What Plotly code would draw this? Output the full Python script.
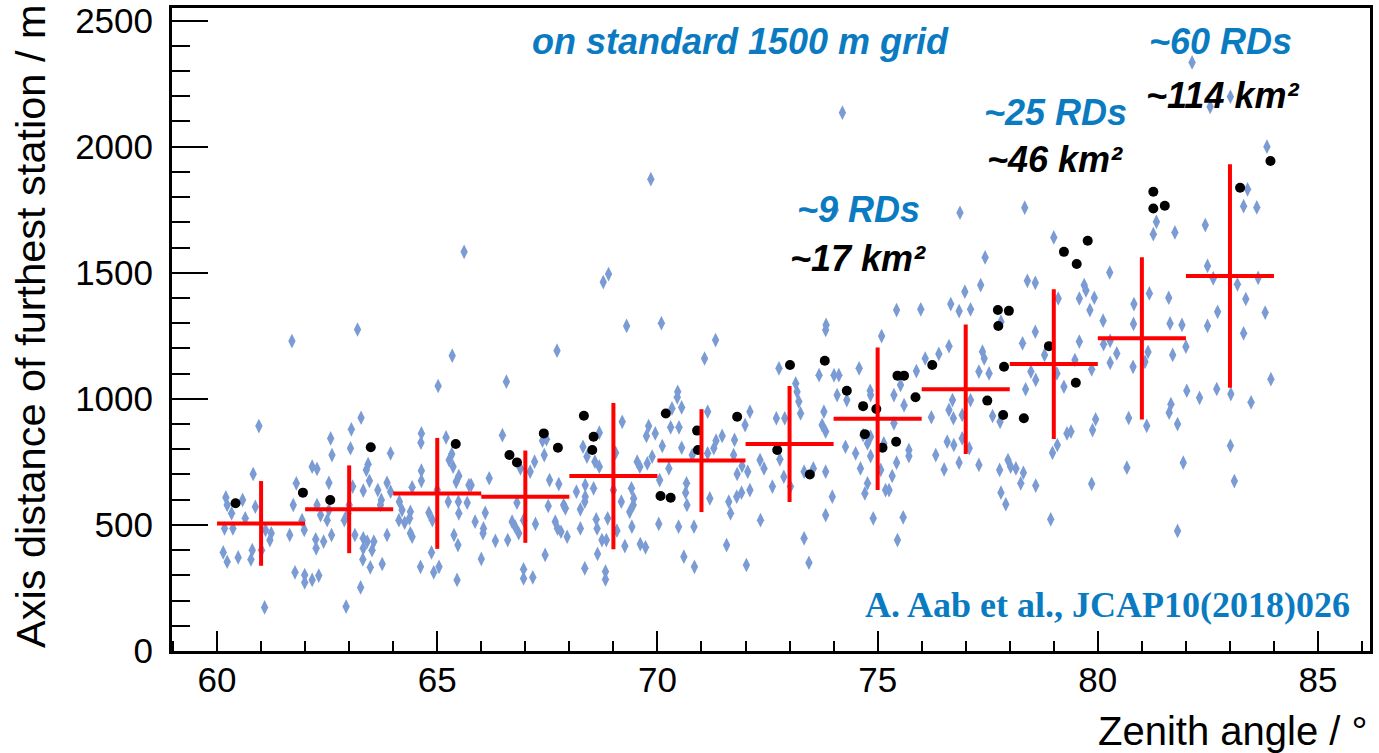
import plotly.graph_objects as go

# ---------------- data ----------------
# blue diamonds: all events (zenith angle [deg], axis distance of furthest station [m])
diamond_x = [
    61.70, 63.19, 65.34, 65.02, 60.95, 63.27, 63.05, 62.58, 63.03, 62.61, 63.94, 64.64, 64.63, 65.20, 65.33, 65.27,
    62.16, 62.27, 63.43, 63.39, 64.64, 65.36, 60.82, 61.80, 62.54, 63.46, 64.64, 64.43, 63.08, 63.32, 63.65, 63.86,
    63.94, 60.20, 60.58, 60.23, 60.87, 60.33, 60.64, 61.73, 62.27, 62.54, 62.35, 63.00, 62.97, 62.89, 62.50, 63.73,
    63.71, 64.14, 64.20, 64.39, 64.37, 64.13, 64.81, 64.89, 65.25, 65.48, 65.68, 65.49, 65.43, 65.49, 65.72, 60.17,
    60.36, 61.10, 61.23, 61.20, 61.01, 60.80, 60.77, 60.14, 60.23, 60.48, 61.08, 61.65, 61.93, 61.98, 62.24, 62.25,
    62.42, 62.60, 61.77, 61.99, 61.99, 62.16, 62.31, 63.13, 63.32, 63.41, 63.56, 63.32, 63.52, 63.31, 63.48, 63.75,
    63.86, 63.26, 62.93, 64.26, 64.39, 64.43, 64.62, 64.87, 64.92, 65.04, 65.38, 65.47, 65.45, 65.00, 65.61,
    69.30, 70.09, 71.32, 71.07, 67.72, 66.57, 70.46, 70.45, 70.33, 70.55, 71.14, 72.10, 69.20, 66.48, 69.80, 69.95,
    69.75, 70.30, 70.49, 71.99, 68.68, 70.11, 70.55, 71.47, 71.33, 71.28, 71.14, 71.75, 71.73, 67.39, 67.48, 67.43,
    67.21, 67.11, 66.89, 68.31, 68.40, 68.58, 68.68, 69.05, 69.54, 69.60, 69.77, 69.88, 70.26, 70.79, 71.92, 72.05,
    72.42, 72.33, 66.18, 65.77, 67.55, 67.76, 68.16, 68.36, 68.55, 68.36, 68.35, 69.00, 69.41, 69.46, 69.45, 69.37,
    69.18, 70.05, 70.66, 70.64, 70.67, 71.19, 71.62, 71.80, 71.91, 72.10, 71.81, 71.66, 72.34, 66.09, 65.86, 66.05,
    66.04, 66.32, 66.60, 66.70, 66.77, 66.85, 66.96, 67.23, 66.81, 67.52, 67.87, 67.91, 67.68, 67.73, 67.81, 67.95,
    68.25, 68.25, 68.61, 68.63, 68.87, 68.74, 68.84, 69.08, 69.42, 69.61, 69.73, 69.26, 70.03, 70.48, 70.83, 67.45,
    66.00, 66.96, 66.96, 67.17, 68.35, 68.64, 68.82, 68.82, 70.60, 70.84, 71.57, 72.02, 69.85, 68.89, 68.77,
    73.82, 75.09, 78.58, 76.62, 76.39, 76.08, 75.88, 74.58, 74.01, 74.12, 73.67, 72.76, 73.14, 73.17, 73.21, 73.25,
    72.70, 72.89, 74.30, 74.08, 73.78, 73.74, 73.82, 74.27, 74.50, 74.67, 74.83, 74.84, 75.37, 75.52, 75.60, 75.37,
    75.14, 74.84, 74.84, 74.77, 75.71, 75.71, 74.61, 75.07, 75.43, 75.33, 75.18, 75.26, 74.77, 74.71, 74.90, 75.58,
    75.45, 73.82, 73.97, 73.82, 73.33, 73.54, 73.33, 73.44, 72.87, 72.78, 73.02, 72.61, 76.22, 76.70, 76.72, 76.92,
    76.62, 77.11, 76.32, 76.58, 76.73, 76.51, 76.85, 76.92, 77.08, 77.30, 77.30, 77.38, 77.42, 77.53, 77.61, 77.78,
    77.77, 77.96, 78.02, 78.14, 78.31, 78.25, 78.59, 77.80, 77.91, 78.29, 78.36, 78.59, 78.48, 78.79, 79.07, 79.23,
    79.30, 79.08, 78.97, 78.93, 73.83,
    80.12, 80.81, 81.64, 81.91, 82.49, 83.31, 79.58, 80.13, 80.28, 80.43, 80.28, 80.80, 81.14, 81.07, 81.70, 82.00,
    79.86, 79.48, 83.93, 82.02, 82.31, 82.70, 83.02, 83.48, 81.66, 81.62, 81.81, 80.70, 81.11, 79.95, 79.88, 79.39,
    83.01, 80.66, 81.94, 83.10, 79.86, 81.81,
    82.14, 83.01, 82.55, 83.84, 83.40, 83.31, 83.61, 81.33, 81.26, 81.75, 82.44, 82.49, 82.62, 83.17, 83.64, 83.36,
    83.80, 82.72, 80.27, 79.69, 79.73, 79.58, 79.92, 79.82, 81.17, 81.61, 80.82,
    74.20, 76.87, 78.34, 79.00, 77.44, 77.34, 76.98, 76.66, 76.85, 77.11, 75.43, 75.98, 78.40, 78.58, 79.10, 77.80,
    74.04,
]
diamond_y = [
    1229, 1275, 1171, 1051, 892, 925, 879, 843, 804, 777, 784, 863, 826, 847, 781, 757,
    731, 722, 741, 718, 715, 731, 702, 665, 667, 675, 675, 649, 652, 636, 638, 667,
    632, 609, 599, 579, 572, 546, 526, 579, 579, 559, 539, 579, 546, 519, 519, 599,
    579, 592, 559, 552, 526, 519, 548, 519, 592, 592, 588, 546, 671, 694, 658, 486,
    486, 480, 467, 440, 400, 400, 363, 391, 354, 371, 173, 460, 519, 480, 443, 407,
    434, 460, 312, 272, 301, 282, 299, 460, 447, 434, 434, 407, 400, 363, 332, 345,
    460, 252, 176, 509, 467, 453, 334, 391, 312, 334, 460, 420, 282, 638, 1583,
    1289, 1300, 1233, 1160, 1191, 1068, 1028, 1006, 962, 966, 949, 949, 909, 856, 892, 863,
    853, 887, 887, 896, 866, 813, 806, 853, 834, 804, 784, 837, 777, 834, 840, 777,
    751, 711, 724, 810, 771, 751, 731, 786, 751, 731, 744, 771, 724, 777, 734, 711,
    724, 757, 685, 658, 678, 662, 632, 658, 645, 612, 592, 638, 645, 605, 579, 552,
    592, 678, 665, 628, 579, 605, 592, 612, 628, 638, 702, 546, 519, 548, 513, 486,
    467, 437, 440, 513, 493, 467, 519, 504, 588, 575, 579, 566, 513, 486, 473, 453,
    562, 486, 522, 486, 526, 440, 440, 477, 493, 424, 411, 416, 504, 493, 493, 381,
    365, 324, 288, 292, 328, 385, 315, 284, 374, 334, 420, 341, 1871, 1495, 1463,
    1273, 1249, 1266, 1209, 1178, 1160, 1110, 1121, 1094, 1094, 1094, 1121, 1061, 1028, 989, 942,
    923, 923, 995, 1015, 949, 896, 870, 810, 784, 856, 1032, 1015, 1015, 1055, 975, 903,
    823, 773, 850, 823, 797, 773, 724, 718, 747, 694, 638, 638, 665, 625, 526, 530,
    440, 711, 612, 539, 711, 724, 447, 350, 691, 760, 652, 652, 927, 995, 923, 936,
    956, 995, 777, 830, 817, 720, 747, 843, 804, 738, 1108, 1187, 1160, 1101, 932, 909,
    718, 757, 731, 724, 707, 665, 656, 628, 582, 1220, 1038, 1075, 1108, 1174, 1101, 1048,
    863, 817, 786, 522, 1293,
    1310, 1297, 1299, 1293, 1289, 1260, 1227, 1217, 1230, 1180, 1143, 1127, 1186, 1147, 1174, 1207,
    1117, 1154, 1078, 1032, 1004, 1039, 1019, 986, 979, 945, 900, 924, 893, 919, 876, 870,
    814, 727, 747, 674, 663, 476,
    2334, 2198, 2158, 2000, 1831, 1764, 1759, 1702, 1653, 1660, 1689, 1527, 1478, 1454, 1480, 1396,
    1342, 1345, 1501, 1451, 1430, 1398, 1401, 1352, 1418, 1401, 1376,
    2135, 1738, 1758, 1640, 1561, 1451, 1425, 1376, 1348, 1355, 1352, 1355, 1468, 1460, 1398, 1306,
    1749,
]

# black dots: subset of events
black_x = [
    60.42, 61.95, 62.57, 63.49, 65.42,
    66.64, 66.81, 67.42, 67.74, 68.33, 68.55, 68.52, 70.19, 70.07, 70.30, 70.90, 70.92, 71.81,
    73.01, 73.80, 72.72, 73.46, 74.30, 74.67, 74.97, 74.71, 75.11, 75.42, 75.45, 75.60, 75.86, 76.24,
    77.74, 77.87, 77.49, 77.85, 78.32, 78.89,
    79.50, 83.92, 83.23, 81.26, 81.26, 81.52, 79.77, 79.52, 79.23, 77.73, 77.98,
]
black_y = [
    586, 628, 599, 808, 821,
    777, 748, 863, 806, 933, 850, 797, 942, 615, 608, 874, 797, 929,
    1134, 1151, 797, 700, 1032, 971, 960, 860, 806, 830, 1092, 1092, 1006, 1134,
    1289, 1127, 993, 936, 923, 1209,
    1064, 1943, 1837, 1821, 1755, 1766, 1627, 1535, 1583, 1352, 1349,
]

# red profile: 2-degree bins
bin_center = [61, 63, 65, 67, 69, 71, 73, 75, 77, 79, 81, 83]
bin_mean = [506, 562, 625, 612, 694, 755, 821, 921, 1038, 1138, 1240, 1487]
bin_spread = [168, 174, 220, 183, 290, 204, 230, 283, 257, 297, 322, 443]
bin_halfwidth = 1.0

x_major_ticks = [60, 65, 70, 75, 80, 85]
y_major_ticks = [0, 500, 1000, 1500, 2000, 2500]

BLUE_TEXT = "#0a7bc1"
DIAMOND = "#7b9bd4"

fig = go.Figure()
fig.add_trace(go.Scatter(
    x=diamond_x, y=diamond_y, mode="markers",
    marker=dict(symbol="diamond-tall", size=10.5, color=DIAMOND, line=dict(width=0)),
    hoverinfo="skip"))
fig.add_trace(go.Scatter(
    x=black_x, y=black_y, mode="markers",
    marker=dict(symbol="circle", size=10, color="black", line=dict(width=0)),
    hoverinfo="skip"))
fig.add_trace(go.Scatter(
    x=bin_center, y=bin_mean, mode="markers",
    marker=dict(size=1, color="red"),
    error_x=dict(type="constant", value=bin_halfwidth, thickness=4, width=0, color="red"),
    error_y=dict(type="data", array=bin_spread, thickness=4, width=0, color="red"),
    hoverinfo="skip"))

PL, PR, PT, PB = 172, 1370, 8, 651
W, H = 1379, 753


def px_to_paper(px, py):
    return (px - PL) / (PR - PL), (PB - py) / (PB - PT)


tickfont = dict(family="Liberation Sans, Arial, sans-serif", size=35, color="black")

fig.update_layout(
    width=W, height=H,
    margin=dict(l=PL, r=W - PR, t=PT, b=H - PB, pad=0, autoexpand=False),
    paper_bgcolor="white", plot_bgcolor="white",
    showlegend=False,
    xaxis=dict(
        range=[58.977, 86.18], showline=True, linecolor="black", linewidth=3, mirror=True,
        showgrid=False, zeroline=False, automargin=False,
        tickmode="array", tickvals=x_major_ticks, ticktext=[str(v) for v in x_major_ticks],
        ticks="inside", ticklen=20, tickwidth=2, tickcolor="black",
        minor=dict(ticks="inside", dtick=1, tick0=0, ticklen=10, tickwidth=2, tickcolor="black"),
        tickfont=tickfont, ticklabelstandoff=-4,
    ),
    yaxis=dict(
        range=[0, 2550], showline=True, linecolor="black", linewidth=3, mirror=True,
        showgrid=False, zeroline=False, automargin=False,
        tickmode="array", tickvals=y_major_ticks, ticktext=[str(v) for v in y_major_ticks],
        ticks="inside", ticklen=36, tickwidth=2, tickcolor="black",
        minor=dict(ticks="inside", dtick=100, tick0=0, ticklen=18, tickwidth=2, tickcolor="black"),
        tickfont=tickfont, ticklabelstandoff=9,
    ),
)

ann_font = dict(family="Liberation Sans, Arial, sans-serif", size=36, weight="bold", style="italic")
labels = [
    ("on standard 1500 m grid", 740, 42, BLUE_TEXT),
    ("~60 RDs", 1220, 42, BLUE_TEXT),
    ("~114 km²", 1222, 95, "black"),
    ("~25 RDs", 1055, 112, BLUE_TEXT),
    ("~46 km²", 1055, 160, "black"),
    ("~9 RDs", 858, 210, BLUE_TEXT),
    ("~17 km²", 858, 258, "black"),
]
for text, px, py, col in labels:
    ax_, ay_ = px_to_paper(px, py)
    fig.add_annotation(text=text, x=ax_, y=ay_, xref="paper", yref="paper",
                       xanchor="center", yanchor="middle", showarrow=False,
                       font=dict(ann_font, color=col))

cx, cy = px_to_paper(1352, 605)
fig.add_annotation(text="A. Aab et al., JCAP10(2018)026", x=cx, y=cy, xref="paper", yref="paper",
                   xanchor="right", yanchor="middle", showarrow=False,
                   font=dict(family="Liberation Serif, Times New Roman, serif", size=36,
                             weight="bold", color=BLUE_TEXT))

# axis titles (ROOT style, aligned to the axis end)
fig.add_annotation(text="Zenith angle / °", x=1, y=0, xref="paper", yref="paper",
                   xanchor="right", yanchor="middle", xshift=0, yshift=-80, showarrow=False,
                   font=dict(family="Liberation Sans, Arial, sans-serif", size=40, color="black"))
fig.add_annotation(text="Axis distance of furthest station / m", x=0, y=1, xref="paper", yref="paper",
                   xanchor="center", yanchor="top", xshift=30 - PL, yshift=6, textangle=-90,
                   showarrow=False,
                   font=dict(family="Liberation Sans, Arial, sans-serif", size=41.5, color="black"))

fig.write_html("out.html")
